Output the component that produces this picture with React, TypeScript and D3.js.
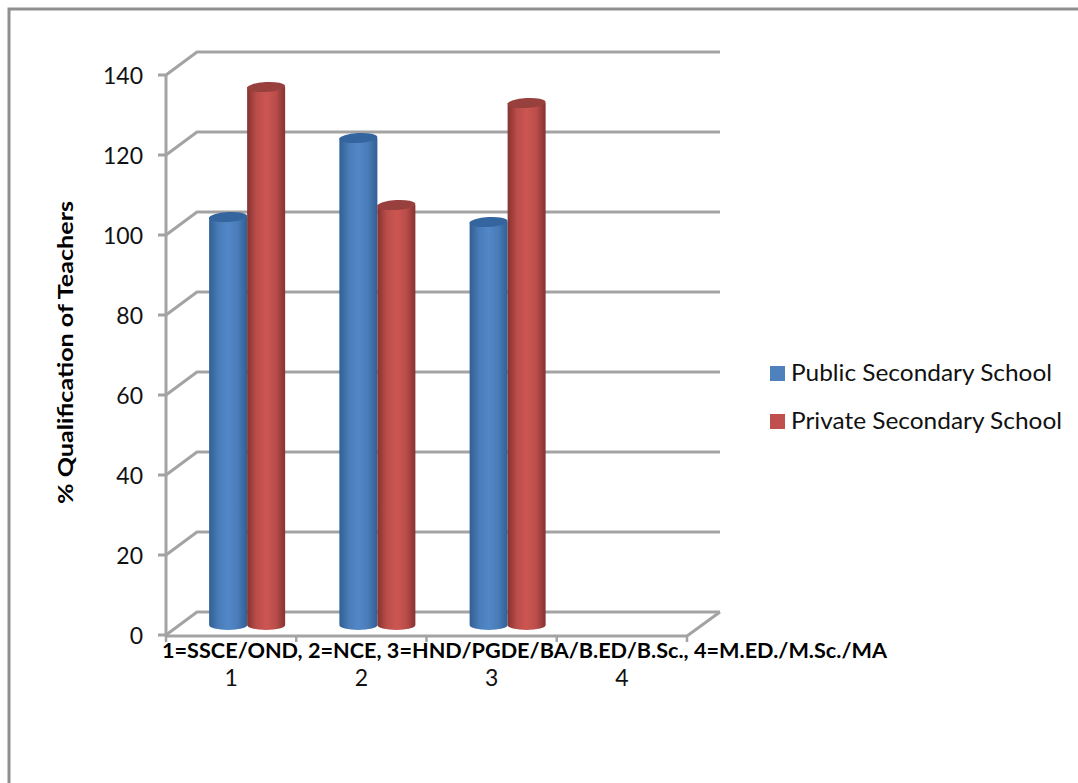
// App.tsx
import * as d3 from "d3";

const categories = ["1", "2", "3", "4"];
const seriesNames = ["Public Secondary School", "Private Secondary School"];
const legendWidths = [261, 271];
const publicValues = [102, 121.75, 100.75, null];
const privateValues = [134.5, 105, 130.5, null];
const yTicks = [0, 20, 40, 60, 80, 100, 120, 140];

const WIDTH = 1078;
const HEIGHT = 783;
const FONT = "Lato, Carlito, 'Open Sans', sans-serif";
const GRID = "#a3a3a3";

// 3D box of the plot: front plane + shift to back wall
const DEPTH_X = 31;
const DEPTH_Y = -23;
const BAR_W = 38;
const RY = 5;

const x = d3.scaleBand<string>().domain(categories).range([166, 687]);
const y = d3.scaleLinear().domain([0, 140]).range([635, 75]);

const palettes = [
  { id: "pub", edge: "#2f5f94", mid: "#4a7cb8", light: "#5287c8", top: "#35659e", swatch: "#4f81bd" },
  { id: "priv", edge: "#863230", mid: "#bb4e4b", light: "#cc5552", top: "#98403d", swatch: "#c0504d" },
];

function Cylinder({ cx, value, series }: { cx: number; value: number; series: number }) {
  const p = palettes[series];
  // bars stand partway into the floor depth
  const yTop = y(value) - 10;
  const yBase = y(0) - 10;
  const l = cx - BAR_W / 2;
  const r = cx + BAR_W / 2;
  const d = `M${l},${yTop}L${l},${yBase}A${BAR_W / 2},${RY} 0 0 0 ${r},${yBase}L${r},${yTop}Z`;
  return (
    <g>
      <path d={d} fill={`url(#grad-${p.id})`} />
      <ellipse
        cx={cx}
        cy={yTop}
        rx={BAR_W / 2}
        ry={RY}
        fill={p.top}
        transform={`rotate(-3 ${cx} ${yTop})`}
      />
    </g>
  );
}

export default function App() {
  const band = x.bandwidth();
  const seriesValues = [publicValues, privateValues];
  return (
    <svg
      width={WIDTH}
      height={HEIGHT}
      viewBox={`0 0 ${WIDTH} ${HEIGHT}`}
      style={{ position: "absolute", left: 0, top: 0, background: "#fff" }}
      fontFamily={FONT}
    >
      <defs>
        {palettes.map((p) => (
          <linearGradient key={p.id} id={`grad-${p.id}`} x1="0" x2="1" y1="0" y2="0">
            <stop offset="0" stopColor={p.edge} />
            <stop offset="0.25" stopColor={p.mid} />
            <stop offset="0.5" stopColor={p.light} />
            <stop offset="0.75" stopColor={p.mid} />
            <stop offset="1" stopColor={p.edge} />
          </linearGradient>
        ))}
        <filter id="soft" x="-5%" y="-5%" width="110%" height="110%">
          <feGaussianBlur stdDeviation="0.45" />
        </filter>
      </defs>

      {/* outer frame, only left and top survive the crop */}
      <path d="M9,783V9H1078" fill="none" stroke="#8f8f8f" strokeWidth={3} />

      <g filter="url(#soft)">
        {/* gridlines on the back wall and the slanted side */}
        {yTicks.map((t) => (
          <path
            key={t}
            d={`M158,${y(t)}H166L${166 + DEPTH_X},${y(t) + DEPTH_Y}H${687 + DEPTH_X + 2}`}
            fill="none"
            stroke={GRID}
            strokeWidth={3}
            strokeLinejoin="round"
          />
        ))}
        {/* value axis and floor front edge */}
        <path d={`M166,${y(140)}V${y(0) + 1}`} stroke={GRID} strokeWidth={3} fill="none" />
        <path
          d={`M166,${y(0) + 1}H687L${687 + 33},${y(0) + DEPTH_Y}`}
          stroke={GRID}
          strokeWidth={3}
          fill="none"
        />
        {[...categories.map((c) => x(c)!), 687].map((tx) => (
          <path key={tx} d={`M${tx},${y(0)}V${y(0) + 7}`} stroke={GRID} strokeWidth={2.5} />
        ))}

        {/* bars, back to front by category */}
        {categories.map((c, i) =>
          seriesValues.map((vals, s) => {
            const v = vals[i];
            if (v == null) return null;
            const cx = x(c)! + band / 2 + 16 + (s === 0 ? -BAR_W / 2 : BAR_W / 2);
            return <Cylinder key={`${c}-${s}`} cx={cx} value={v} series={s} />;
          })
        )}
      </g>

      {/* value axis labels */}
      {yTicks.map((t) => (
        <text key={t} x={143} y={y(t) + 9} textAnchor="end" fontSize={23} fill="#111">
          {t}
        </text>
      ))}

      {/* category labels */}
      {categories.map((c) => (
        <text key={c} x={x(c)! + band / 2} y={686} textAnchor="middle" fontSize={23} fill="#111">
          {c}
        </text>
      ))}

      {/* x axis title */}
      <text
        x={162}
        y={658}
        fontSize={20}
        fontWeight={700}
        fill="#000"
        textLength={725}
        lengthAdjust="spacingAndGlyphs"
      >
        1=SSCE/OND, 2=NCE, 3=HND/PGDE/BA/B.ED/B.Sc., 4=M.ED./M.Sc./MA
      </text>

      {/* y axis title */}
      <text
        transform="translate(73,504) rotate(-90)"
        fontSize={21}
        fontWeight={700}
        fill="#000"
        textLength={303}
        lengthAdjust="spacingAndGlyphs"
      >
        % Qualification of Teachers
      </text>

      {/* legend */}
      {seriesNames.map((name, i) => (
        <g key={name} transform={`translate(770,${373.5 + i * 48})`}>
          <rect x={0} y={-7.5} width={15} height={15} fill={palettes[i].swatch} />
          <text
            x={21}
            y={7}
            fontSize={23}
            fill="#111"
            textLength={legendWidths[i]}
            lengthAdjust="spacingAndGlyphs"
          >
            {name}
          </text>
        </g>
      ))}
    </svg>
  );
}
